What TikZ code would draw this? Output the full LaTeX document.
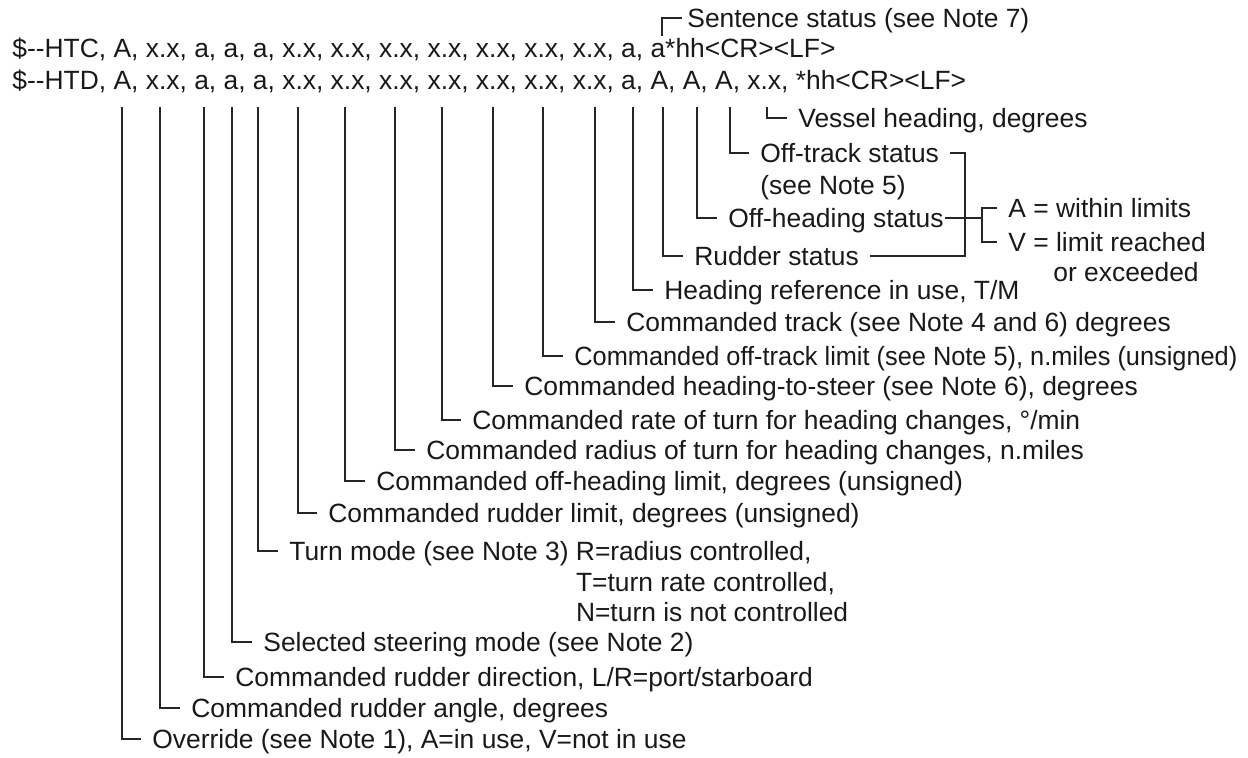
\documentclass[tikz,border=0pt]{standalone}
\usepackage{fontspec}
\setmainfont{Liberation Sans}
\newfontfamily\narrowfont{Liberation Sans}[FakeStretch=0.96]
\usetikzlibrary{calc}

\begin{document}
\begin{tikzpicture}[
    x=0.5pt, y=-0.5pt,
    every node/.style={font=\fontsize{13.2}{15.8}\selectfont, text=black!90},
    sentence/.style={anchor=base west, inner sep=0pt},
    lbl/.style={anchor=west, inner xsep=5.5pt, inner ysep=0pt, text height=9.5pt, text depth=0pt},
    leader/.style={draw=black!85, line width=0.7pt}
]

    \useasboundingbox (0,0) rectangle (1248,758);

    % The two sentences
    \node[sentence] (htc) at (12,58) {\$\mbox{-}\mbox{-}HTC, A, x.x, a, a, a, x.x, x.x, x.x, x.x, x.x, x.x, x.x, a, a*hh<CR><LF>};
    \node[sentence] (htd) at (12,90) {\$\mbox{-}\mbox{-}HTD, A, x.x, a, a, a, x.x, x.x, x.x, x.x, x.x, x.x, x.x, a, A, A, A, x.x, *hh<CR><LF>};

    % Field positions under the HTD sentence
    \coordinate (f1) at (122,107);
    \coordinate (f2) at (160,107);
    \coordinate (f3) at (204,107);
    \coordinate (f4) at (232,107);
    \coordinate (f5) at (258,107);
    \coordinate (f6) at (298,107);
    \coordinate (f7) at (345,107);
    \coordinate (f8) at (395,107);
    \coordinate (f9) at (442,107);
    \coordinate (f10) at (493,107);
    \coordinate (f11) at (543,107);
    \coordinate (f12) at (595,107);
    \coordinate (f13) at (633,107);
    \coordinate (f14) at (663,107);
    \coordinate (f15) at (697,107);
    \coordinate (f16) at (730,107);
    \coordinate (f17) at (767,107);
    % Status field of the HTC sentence
    \coordinate (fst) at (662,36);

    % Field descriptions
    \node[lbl, inner xsep=2.5pt] (sentst) at (682,18) {Sentence status (see Note 7)};
    \node[lbl] (vessel) at (787,118) {Vessel heading, degrees};
    \node[lbl] (offtrack) at (749,153) {Off-track status};
    \node[lbl] (offtrack2) at (749,185) {(see Note 5)};
    \node[lbl] (offhead) at (717,218) {Off-heading status};
    \node[lbl] (rudderst) at (683,256) {Rudder status};
    \node[lbl] (headref) at (653,290) {Heading reference in use, T/M};
    \node[lbl] (track) at (615,322) {Commanded track (see Note 4 and 6) degrees};
    \node[lbl] (trklim) at (563,356) {\narrowfont Commanded off-track limit (see Note 5), n.miles (unsigned)};
    \node[lbl] (hdgsteer) at (513,386) {Commanded heading-to-steer (see Note 6), degrees};
    \node[lbl] (rate) at (461,420) {Commanded rate of turn for heading changes, °/min};
    \node[lbl] (radius) at (415,450) {Commanded radius of turn for heading changes, n.miles};
    \node[lbl] (hdglim) at (365,481) {Commanded off-heading limit, degrees (unsigned)};
    \node[lbl] (rudlim) at (317,513) {Commanded rudder limit, degrees (unsigned)};
    \node[lbl] (turn) at (278,551) {Turn mode (see Note 3) R=radius controlled,};
    \node[lbl] (turnT) at (278,582) {\hphantom{Turn mode (see Note 3)} T=turn rate controlled,};
    \node[lbl] (turnN) at (278,612) {\hphantom{Turn mode (see Note 3)} N=turn is not controlled};
    \node[lbl] (steer) at (252,642) {Selected steering mode (see Note 2)};
    \node[lbl] (rudDir) at (224,677) {Commanded rudder direction, L/R=port/starboard};
    \node[lbl] (rudAng) at (180,708) {Commanded rudder angle, degrees};
    \node[lbl] (override) at (141,739) {Override (see Note 1), A=in use, V=not in use};

    % Status values
    \node[lbl] (within) at (997,208) {A = within limits};
    \node[lbl] (limit) at (997,242) {V = limit reached};
    \node[lbl] (exceed) at (1042,272) {or exceeded};

    % Bracket corners
    \coordinate (brk) at (965,0);
    \coordinate (avbrk) at (982,222);

    % Leaders
    \draw[leader] (fst) |- (sentst);
    \draw[leader] (f17) |- (vessel);
    \draw[leader] (f16) |- (offtrack);
    \draw[leader] (f15) |- (offhead);
    \draw[leader] (f14) |- (rudderst);
    \draw[leader] (f13) |- (headref);
    \draw[leader] (f12) |- (track);
    \draw[leader] (f11) |- (trklim);
    \draw[leader] (f10) |- (hdgsteer);
    \draw[leader] (f9) |- (rate);
    \draw[leader] (f8) |- (radius);
    \draw[leader] (f7) |- (hdglim);
    \draw[leader] (f6) |- (rudlim);
    \draw[leader] (f5) |- (turn);
    \draw[leader] (f4) |- (steer);
    \draw[leader] (f3) |- (rudDir);
    \draw[leader] (f2) |- (rudAng);
    \draw[leader] (f1) |- (override);

    % Status bracket
    \draw[leader] (offtrack.east) -| (brk |- rudderst.east) -- (rudderst.east);
    \draw[leader] ([xshift=-5pt]offhead.east) -- (offhead.east -| avbrk);
    \draw[leader] (within.west) -| (avbrk) |- (limit.west);

\end{tikzpicture}
\end{document}
